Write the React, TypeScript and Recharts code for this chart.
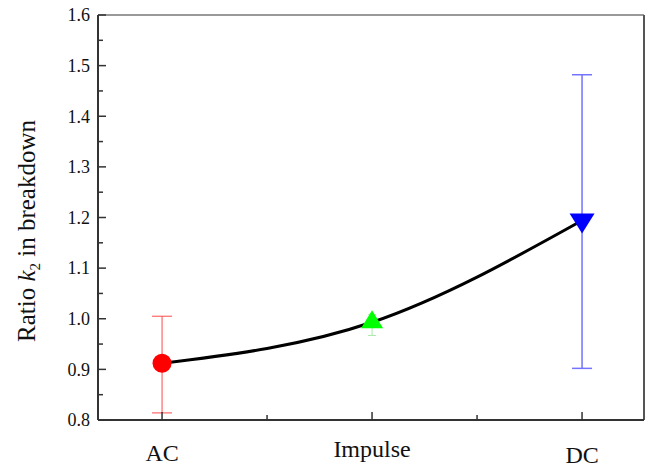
import React from "react"
import {
  ComposedChart, Line, Scatter, ErrorBar, XAxis, YAxis, ReferenceLine,
} from "recharts"

const categories = ["AC", "Impulse", "DC"]
const positions = [1, 2, 3]
const ratio = [0.912, 0.993, 1.194]
const errLow = [0.098, 0.026, 0.292]
const errHigh = [0.093, 0.015, 0.288]
const xTicks = [1, 1.5, 2, 2.5, 3]
const yTicks = [0.8, 0.85, 0.9, 0.95, 1.0, 1.05, 1.1, 1.15, 1.2, 1.25, 1.3, 1.35, 1.4, 1.45, 1.5, 1.55, 1.6]

const X_DOMAIN: [number, number] = [0.695, 3.295]
const Y_DOMAIN: [number, number] = [0.8, 1.6]
const FONT = "'Liberation Serif', 'Times New Roman', serif"
const AXIS = "#333"

// baseline offsets of the category labels below the axis (they sit unevenly in the original)
const labelDy: Record<string, number> = { AC: 41, Impulse: 37, DC: 43 }

const lineData = positions.map((x, i) => ({ x, ratio: ratio[i] }))
const pointData = positions.map((x, i) => [{ x, y: ratio[i], err: [errLow[i], errHigh[i]] }])

const XTick = (props: any) => {
  const { x, y, payload } = props
  const v = payload.value as number
  const major = Number.isInteger(v)
  const name = major ? categories[positions.indexOf(v)] : null
  return (
    <g>
      <line x1={x} x2={x} y1={y} y2={y - (major ? 8 : 5)} stroke={AXIS} strokeWidth={1.5} />
      {name && (
        <text x={x} y={y + labelDy[name]} textAnchor="middle" fontSize={24} fontFamily={FONT} fill="#111">
          {name}
        </text>
      )}
    </g>
  )
}

const YTick = (props: any) => {
  const { x, y, payload } = props
  const v = payload.value as number
  const major = Math.abs(v * 10 - Math.round(v * 10)) < 1e-6
  return (
    <g>
      <line x1={x} x2={x + (major ? 8 : 5)} y1={y} y2={y} stroke={AXIS} strokeWidth={1.5} />
      {major && (
        <text x={x - 8} y={y} dy="0.35em" textAnchor="end" fontSize={18} fontFamily={FONT} fill="#111">
          {v.toFixed(1)}
        </text>
      )}
    </g>
  )
}

const Dot = ({ cx, cy }: any) => <circle cx={cx} cy={cy} r={9.5} fill="#ff0000" />
const TriUp = ({ cx, cy }: any) => (
  <polygon points={`${cx},${cy - 12} ${cx - 11},${cy + 6} ${cx + 11},${cy + 6}`} fill="#00ff00" />
)
const TriDown = ({ cx, cy }: any) => (
  <polygon points={`${cx - 12.5},${cy - 7} ${cx + 12.5},${cy - 7} ${cx},${cy + 13}`} fill="#0000ff" />
)

const shapes = [Dot, TriUp, TriDown]
const errColors = ["#ff4a4a", "#a8eaa8", "#7373ff"]
const errWidths = [1, 1, 1.5]
const capWidths = [10, 4, 10]

export default function App() {
  return (
    <div style={{ width: 648, height: 467 }}>
      <style>{`body{margin:0}`}</style>
      <ComposedChart width={648} height={467} margin={{ top: 15, right: 4, bottom: 0, left: 0 }}>
        <XAxis
          dataKey="x"
          type="number"
          domain={X_DOMAIN}
          ticks={xTicks}
          interval={0}
          allowDataOverflow
          height={47}
          tickSize={0}
          tickMargin={0}
          tickLine={false}
          tick={XTick}
          axisLine={{ stroke: AXIS, strokeWidth: 2 }}
        />
        <YAxis
          type="number"
          domain={Y_DOMAIN}
          ticks={yTicks}
          interval={0}
          allowDataOverflow
          width={98}
          tickSize={0}
          tickMargin={0}
          tickLine={false}
          tick={YTick}
          axisLine={{ stroke: AXIS, strokeWidth: 2 }}
        />
        <ReferenceLine y={1.6} stroke="#777" strokeWidth={1.5} />
        <ReferenceLine x={X_DOMAIN[1]} stroke="#555" strokeWidth={2} />
        <Line
          data={lineData}
          dataKey="ratio"
          type="natural"
          stroke="#000"
          strokeWidth={3}
          dot={false}
          activeDot={false}
          isAnimationActive={false}
        />
        {pointData.map((d, i) => (
          <Scatter
            key={categories[i]}
            data={d}
            dataKey="y"
            shape={shapes[i]}
            isAnimationActive={false}
          >
            <ErrorBar
              dataKey="err"
              direction="y"
              width={capWidths[i]}
              stroke={errColors[i]}
              strokeWidth={errWidths[i]}
              isAnimationActive={false}
            />
          </Scatter>
        ))}
        <text
          x={35}
          y={231}
          transform="rotate(-90, 35, 231)"
          textAnchor="middle"
          fontSize={25}
          fontFamily={FONT}
          fill="#111"
        >
          Ratio <tspan fontStyle="italic">k</tspan>
          <tspan fontSize={15} dy={5}>2</tspan>
          <tspan dy={-5}> in breakdown</tspan>
        </text>
      </ComposedChart>
    </div>
  )
}
